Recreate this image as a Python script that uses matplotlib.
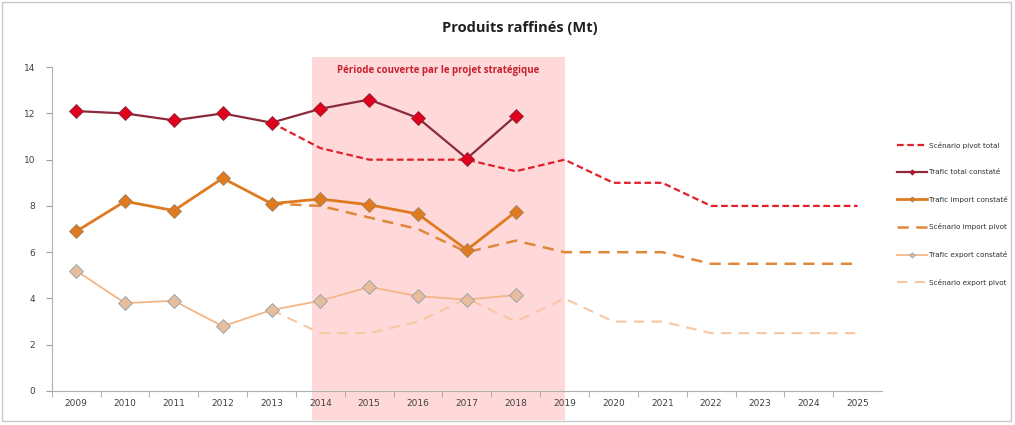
import matplotlib

matplotlib.use("Agg")
import matplotlib.pyplot as plt
import matplotlib.transforms as mtransforms
from matplotlib.patches import Rectangle

years = list(range(2009, 2026))
obs_years = list(range(2009, 2019))
scen_years = list(range(2013, 2026))

total_obs = [12.1, 12.0, 11.7, 12.0, 11.6, 12.2, 12.6, 11.8, 10.05, 11.9]
import_obs = [6.9, 8.2, 7.8, 9.2, 8.1, 8.3, 8.05, 7.65, 6.1, 7.75]
export_obs = [5.2, 3.8, 3.9, 2.8, 3.5, 3.9, 4.5, 4.1, 3.95, 4.15]

total_scen = [11.6, 10.5, 10.0, 10.0, 10.0, 9.5, 10.0, 9.0, 9.0, 8.0, 8.0, 8.0, 8.0]
import_scen = [8.1, 8.0, 7.5, 7.0, 6.0, 6.5, 6.0, 6.0, 6.0, 5.5, 5.5, 5.5, 5.5]
export_scen = [3.5, 2.5, 2.5, 3.0, 4.0, 3.0, 4.0, 3.0, 3.0, 2.5, 2.5, 2.5, 2.5]

period_start, period_end = 2013.83, 2019.0

fig = plt.figure(figsize=(10.15, 4.25), dpi=100)
ax = fig.add_axes([0.051, 0.080, 0.818, 0.762])

# light gray frame around the whole chart area
fig.patches.append(Rectangle((0.002, 0.01), 0.994, 0.985, transform=fig.transFigure,
                             fill=False, edgecolor="#c8c8c8", linewidth=1.0))

# shaded strategic period, spills below the axis like the Excel original
trans = mtransforms.blended_transform_factory(ax.transData, fig.transFigure)
ax.add_patch(Rectangle((period_start, 0.012), period_end - period_start, 0.855,
                       transform=trans, facecolor="#ffd9d9", edgecolor="none",
                       zorder=0, clip_on=False))
ax.text((period_start + period_end) / 2, 13.85, "Période couverte par le projet stratégique",
        ha="center", va="center", fontsize=7, fontweight="bold", color="#c8202e",
        family="Open Sans")

# scenario lines first so the observed series sit on top
ax.plot(scen_years, total_scen, color="#e3202a", lw=1.6, ls=(0, (3, 1.6)),
        label="Scénario pivot total", zorder=3)
ax.plot(obs_years, total_obs, color="#8a2a3c", lw=1.6, marker="D", ms=7.5,
        mfc="#e0001b", mec="#8a2a3c", mew=0.6, label="Trafic total constaté", zorder=4)
ax.plot(obs_years, import_obs, color="#e07a1f", lw=2.0, marker="D", ms=7.5,
        mfc="#e07a1f", mec="#a0825f", mew=0.6, label="Trafic import constaté", zorder=4)
ax.plot(scen_years, import_scen, color="#e0883a", lw=1.8, ls=(0, (4.5, 3)),
        label="Scénario import pivot", zorder=3)
ax.plot(obs_years, export_obs, color="#f5b685", lw=1.3, marker="D", ms=7.5,
        mfc="#e8bd9c", mec="#8fa0aa", mew=0.6, label="Trafic export constaté", zorder=4)
ax.plot(scen_years, export_scen, color="#f8c6a0", lw=1.5, ls=(0, (5, 3.5)),
        label="Scénario export pivot", zorder=3)

ax.set_xlim(years[0] - 0.5, years[-1] + 0.5)
ax.set_ylim(0, 14)
ax.set_xticks(years)
ax.set_xticklabels([str(y) for y in years], fontsize=6.5, color="#404040")
ax.set_xticks([y + 0.5 for y in years[:-1]] + [years[0] - 0.5], minor=True)
ax.tick_params(axis="x", which="major", length=0, pad=6)
ax.tick_params(axis="x", which="minor", length=4, color="#a0a0a0")
ax.set_yticks(range(0, 15, 2))
ax.set_yticklabels([str(v) for v in range(0, 15, 2)], fontsize=6.5, color="#404040")
ax.tick_params(axis="y", length=4, color="#a0a0a0", pad=8)
for side in ("top", "right"):
    ax.spines[side].set_visible(False)
for side in ("left", "bottom"):
    ax.spines[side].set_color("#b0b0b0")
    ax.spines[side].set_linewidth(0.8)
ax.patch.set_alpha(0)

fig.text(0.512, 0.935, "Produits raffinés (Mt)", ha="center", va="center",
         fontsize=10.5, fontweight="bold", color="#202020", family="Open Sans")

ax.legend(loc="upper left", bbox_to_anchor=(1.01, 0.79), frameon=False,
          labelspacing=2.85, handlelength=4.2, handletextpad=0.3, markerscale=0.35,
          prop={"size": 5.2}, labelcolor="#303030")

fig.savefig("out.png", dpi=100)
plt.close(fig)
